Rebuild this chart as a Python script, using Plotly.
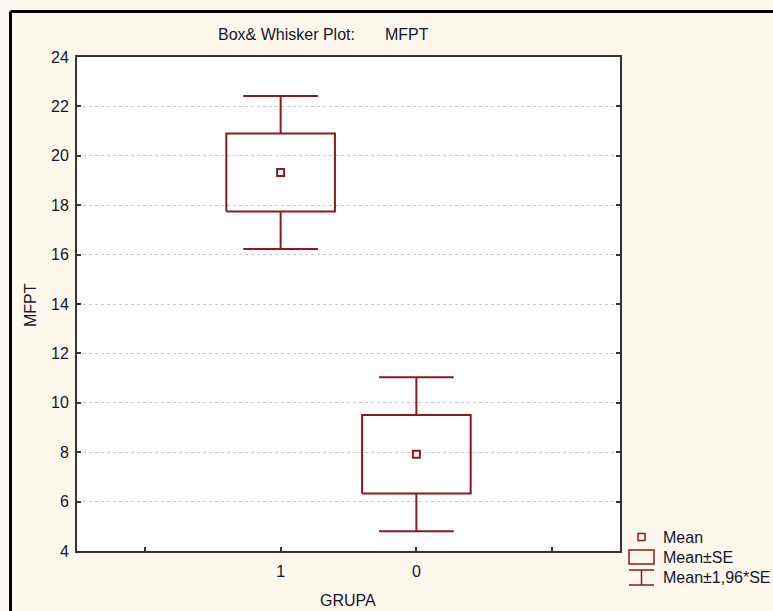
import plotly.graph_objects as go

# ---- data ----
groups = ["1", "0"]
means = [19.32, 7.92]
se = [1.58, 1.59]
x_ticks = [0, 1, 2, 3]
x_ticktext = ["", "1", "0", ""]
y_ticks = list(range(4, 25, 2))

box_color = "#8b1a1a"
font_family = "Liberation Sans, Arial, sans-serif"
text_color = "#15152a"
bg = "#fdf8ee"
FS = 16

fig = go.Figure()

box_half = 0.4
cap_half = 0.275
for i, g in enumerate(groups):
    xc = i + 1
    m, s = means[i], se[i]
    lo, hi = m - s, m + s
    wlo, whi = m - 1.96 * s, m + 1.96 * s
    # box (mean ± SE)
    fig.add_trace(go.Scatter(
        x=[xc - box_half, xc + box_half, xc + box_half, xc - box_half, xc - box_half],
        y=[lo, lo, hi, hi, lo], mode="lines",
        line=dict(color=box_color, width=2), showlegend=False, hoverinfo="skip"))
    # whiskers (mean ± 1.96*SE)
    fig.add_trace(go.Scatter(
        x=[xc, xc, None, xc - cap_half, xc + cap_half, None,
           xc, xc, None, xc - cap_half, xc + cap_half],
        y=[hi, whi, None, whi, whi, None, lo, wlo, None, wlo, wlo],
        mode="lines", line=dict(color=box_color, width=2),
        showlegend=False, hoverinfo="skip"))
    # mean marker
    fig.add_trace(go.Scatter(
        x=[xc], y=[m], mode="markers",
        marker=dict(symbol="square-open", size=7, color=box_color,
                    line=dict(width=2, color=box_color)),
        showlegend=False))

W, H = 773, 611
PL, PR, PT, PB = 77, 620, 57, 551  # plot area in window pixels
L, R, T, B = PL, W - PR, PT, H - PB
pw, ph = W - L - R, H - T - B

def px(xpix):
    return (xpix - L) / pw

def py(ypix):
    return 1 - (ypix - T) / ph

shapes = [
    # outer window border
    dict(type="line", xref="paper", yref="paper", x0=px(10.5), x1=px(773),
         y0=py(11.5), y1=py(11.5), line=dict(color="#000", width=3)),
    dict(type="line", xref="paper", yref="paper", x0=px(10.5), x1=px(10.5),
         y0=py(11.5), y1=py(611), line=dict(color="#000", width=3)),
    # legend symbols
    dict(type="rect", xref="paper", yref="paper", x0=px(638), x1=px(645),
         y0=py(540.5), y1=py(533.5), line=dict(color=box_color, width=1.5)),
    dict(type="rect", xref="paper", yref="paper", x0=px(629), x1=px(654),
         y0=py(564), y1=py(550), line=dict(color=box_color, width=1.5)),
    dict(type="line", xref="paper", yref="paper", x0=px(629), x1=px(654),
         y0=py(570), y1=py(570), line=dict(color=box_color, width=1.5)),
    dict(type="line", xref="paper", yref="paper", x0=px(641.5), x1=px(641.5),
         y0=py(570), y1=py(585), line=dict(color=box_color, width=1.5)),
    dict(type="line", xref="paper", yref="paper", x0=px(629), x1=px(654),
         y0=py(585), y1=py(585), line=dict(color=box_color, width=1.5)),
]

def ann(text, x, y, xanchor="left", angle=0):
    return dict(text=text, xref="paper", yref="paper", x=px(x), y=py(y),
                xanchor=xanchor, yanchor="middle", showarrow=False,
                textangle=angle,
                font=dict(size=FS, color=text_color, family=font_family))

annotations = [
    ann("Box& Whisker Plot:", 216, 35),
    ann("MFPT", 383, 35),
    ann("Mean", 661, 537),
    ann("Mean±SE", 661, 557),
    ann("Mean±1,96*SE", 661, 577),
    ann("GRUPA", 348, 600, xanchor="center"),
    ann("MFPT", 30, 305, xanchor="center", angle=-90),
]

fig.update_layout(
    width=W, height=H,
    margin=dict(l=L, r=R, t=T, b=B),
    paper_bgcolor=bg, plot_bgcolor="white",
    font=dict(family=font_family, size=FS, color=text_color),
    shapes=shapes, annotations=annotations,
    showlegend=False,
    xaxis=dict(range=[-0.5, 3.5], tickmode="array", tickvals=x_ticks,
               ticktext=x_ticktext, ticks="inside", ticklen=4, tickwidth=2,
               tickcolor="#333", showline=True, linecolor="#333", linewidth=2,
               mirror=True, showgrid=False, zeroline=False,
               tickfont=dict(size=FS), ticklabelstandoff=5),
    yaxis=dict(range=[4, 24], tickmode="array", tickvals=y_ticks,
               ticks="inside", ticklen=4, tickwidth=2, tickcolor="#333",
               showline=True, linecolor="#333", linewidth=2, mirror="ticks",
               showgrid=True, gridcolor="#c8c8c8", griddash="dot", gridwidth=1,
               zeroline=False, tickfont=dict(size=FS), ticklabelstandoff=3),
)

fig.write_html(
    "out.html",
    config={"displayModeBar": False},
    post_script="document.body.style.margin='0';document.body.style.overflow='hidden';",
)
